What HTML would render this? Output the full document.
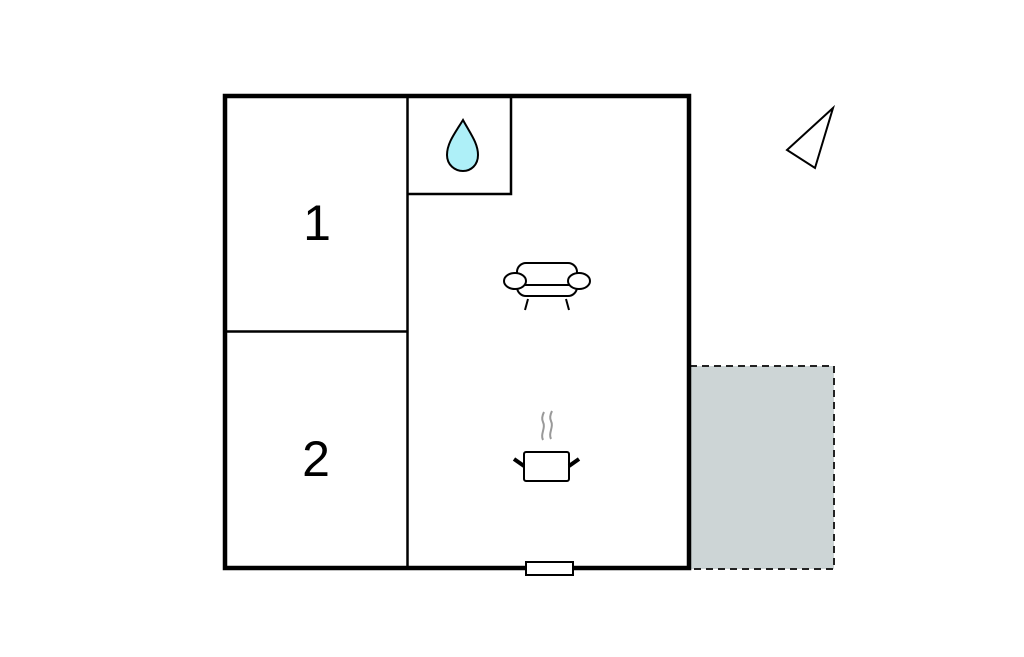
<!DOCTYPE html>
<html><head><meta charset="utf-8"><style>html,body{margin:0;background:#fff}</style></head><body>
<svg width="1024" height="652" viewBox="0 0 1024 652" xmlns="http://www.w3.org/2000/svg">
<rect width="1024" height="652" fill="#fff"/>
<rect x="690" y="366" width="144" height="203" fill="#cdd5d6" stroke="#222" stroke-width="2" stroke-dasharray="7,5"/>
<rect x="225" y="96" width="464" height="472" fill="#fff" stroke="#000" stroke-width="4.5"/>
<line x1="407.5" y1="96" x2="407.5" y2="568" stroke="#000" stroke-width="2.5"/>
<line x1="225" y1="331.5" x2="407" y2="331.5" stroke="#000" stroke-width="2.5"/>
<polyline points="407,194 511,194 511,96" fill="none" stroke="#000" stroke-width="2.5"/>
<rect x="526" y="562" width="47" height="13" fill="#fff" stroke="#000" stroke-width="2"/>
<path d="M463,120 C455,133 447,143 447,155 C447,165 455,171 463,171 C471,171 478,165 478,155 C478,143 470,133 463,120 Z" fill="#aef0f8" stroke="#000" stroke-width="2"/>
<g fill="#fff" stroke="#000" stroke-width="2">
<rect x="517" y="263" width="60" height="33" rx="9"/>
<line x1="524" y1="285" x2="572" y2="285"/>
<line x1="528" y1="299" x2="525" y2="310"/><line x1="566" y1="299" x2="569" y2="310"/>
<ellipse cx="515" cy="281" rx="11" ry="8"/><ellipse cx="579" cy="281" rx="11" ry="8"/>
</g>
<g fill="none" stroke="#999" stroke-width="2">
<path d="M543,440 c-3,-6 3,-12 0,-18 c-2,-4 0,-8 1,-10"/>
<path d="M551,439 c-3,-6 3,-12 0,-18 c-2,-4 0,-8 1,-10"/>
</g>
<rect x="524" y="452" width="45" height="29" rx="2" fill="#fff" stroke="#000" stroke-width="2"/>
<line x1="514" y1="459" x2="524" y2="466" stroke="#000" stroke-width="4"/>
<line x1="569" y1="466" x2="579" y2="459" stroke="#000" stroke-width="4"/>
<polygon points="833,108 787,150 815,168" fill="#fff" stroke="#000" stroke-width="2"/>
<text x="317" y="240" font-family="Liberation Sans, sans-serif" font-size="50" text-anchor="middle">1</text>
<text x="316" y="476" font-family="Liberation Sans, sans-serif" font-size="50" text-anchor="middle">2</text>
</svg>
</body></html>
